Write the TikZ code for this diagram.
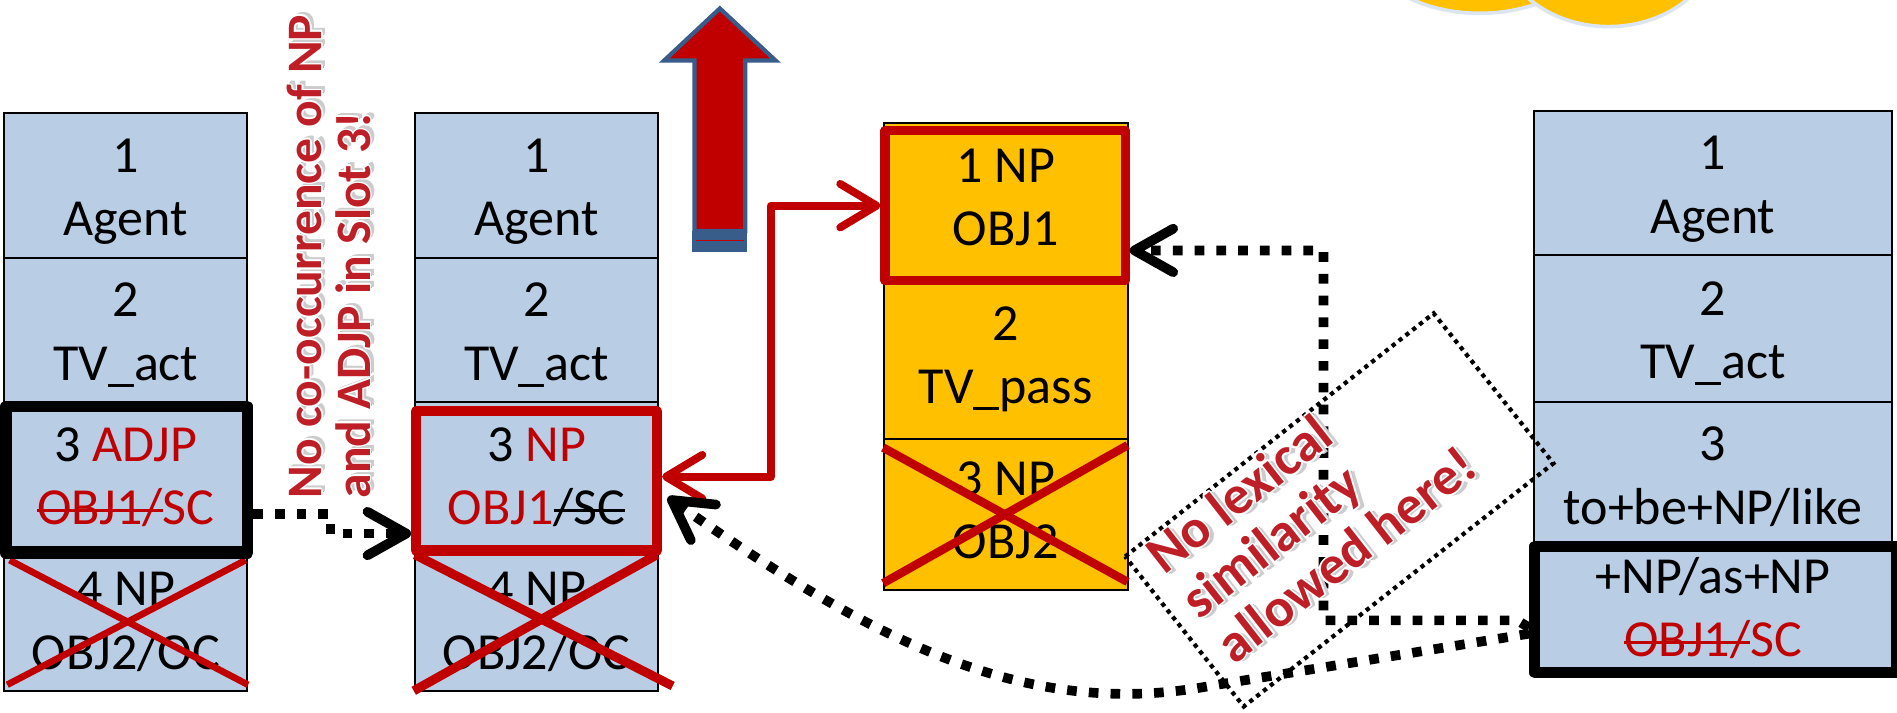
\documentclass[tikz,border=0pt]{standalone}
\usepackage{fontspec}
\setmainfont{Carlito}
\usetikzlibrary{arrows.meta,calc}

\definecolor{cellblue}{RGB}{185,205,229}
\definecolor{slotyellow}{RGB}{255,192,0}
\definecolor{alertred}{RGB}{192,0,0}
\definecolor{notered}{RGB}{190,30,38}
\definecolor{arrowedge}{RGB}{56,93,138}
\definecolor{cloudedge}{RGB}{220,230,242}

% struck-through text
\newsavebox\strikebox
\newcommand\struck[1]{\sbox\strikebox{#1}\rlap{\rule[0.24em]{\wd\strikebox}{0.055em}}\usebox\strikebox}

% two-line slot label with fixed line struts
\newcommand\slot[3][41.25]{\rule{0pt}{#1pt}#2\\#3\rule[-10.75pt]{0pt}{10.75pt}}

\newcommand\cellfont{\fontsize{43}{52.5}\selectfont}
\newcommand\occfont{\bfseries\fontsize{41}{46}\selectfont}
\newcommand\lexfont{\bfseries\fontsize{45}{50}\selectfont}

% red annotation with white halo and soft grey shadow
\newcommand\glownote[4]{%
  \foreach \sx/\sy/\sh [count=\k] in {1.2/-1.2/40,2.2/-2.2/30,3.2/-3.2/20}
    \node[#1, text=black!\sh, xshift=\sx pt, yshift=\sy pt] (#2-s\k) at (#3) {#4};
  \foreach \sx/\sy [count=\k] in {1.3/0,-1.3/0,0/1.3,0/-1.3,0.9/0.9,-0.9/0.9,0.9/-0.9,-0.9/-0.9}
    \node[#1, text=white, xshift=\sx pt, yshift=\sy pt] (#2-h\k) at (#3) {#4};
  \node[#1, text=notered] (#2) at (#3) {#4};
}

\tikzset{
  cell/.style 2 args={draw=black, line width=1.6pt, minimum width=#1, minimum height=#2,
    inner sep=0pt, align=center, font=\cellfont},
  hlbox/.style 2 args={line width=#2, line join=round, minimum width=#1, inner sep=0pt},
  crossout/.style={alertred, line width=#1, line cap=butt},
  dotconn/.style={black, line width=8pt, dash pattern=on 8pt off 10pt,
    >={Straight Barb[length=32pt,width=36pt,round]}, ->},
  redconn/.style={alertred, line width=6.5pt, line join=round,
    >={Straight Barb[length=30pt,width=36pt,round]}, <->},
  thindots/.style={black, line width=3.5pt, dash pattern=on 3.5pt off 3.7pt},
  occnote/.style={font=\occfont, inner sep=0pt, rotate=90, anchor=base west},
  lexnote/.style={font=\lexfont, inner sep=0pt, rotate=38, anchor=base west},
}

\begin{document}
\begin{tikzpicture}[x=1pt, y=-1pt]
\fill[white] (0,0) rectangle (1568,589);
\useasboundingbox (0,0) rectangle (1568,589);

% cloud lobes at the top edge
\draw[fill=slotyellow, draw=cloudedge, line width=3pt] (1223,-48.5) ellipse [x radius=95, y radius=59.5];
\draw[fill=slotyellow, draw=cloudedge, line width=3pt] (1329.5,-50.6) ellipse [x radius=90, y radius=72.6];

% block arrow pointing up
\draw[fill=alertred, draw=arrowedge, line width=3.5pt, line join=miter]
  (595,7) -- (641,50) -- (616,50) -- (616,191) -- (574,191) -- (574,50) -- (549,50) -- cycle;
\fill[arrowedge] (572.25,191) rectangle (617.75,208);
\draw[alertred, line width=1pt] (575,198.6) -- (615,198.6);

% slot column A
\node[cell={201pt}{119.5pt}, fill=cellblue] (A1) at (104,153.25) {\slot{1}{Agent}};
\node[cell={201pt}{119.5pt}, fill=cellblue] (A2) at (104,272.75) {\slot{2}{TV\_act}};
\node[cell={201pt}{119.5pt}, fill=cellblue] (A3) at (104,392.25)
  {\slot{3 \textcolor{alertred}{ADJP}}{\textcolor{alertred}{\struck{OBJ1/}SC}}};
\node[cell={201pt}{119.5pt}, fill=cellblue] (A4) at (104,511.75) {\slot{4 NP}{OBJ2/OC}};

% slot column B
\node[cell={201pt}{119.5pt}, fill=cellblue] (B1) at (443.5,153.25) {\slot{1}{Agent}};
\node[cell={201pt}{119.5pt}, fill=cellblue] (B2) at (443.5,272.75) {\slot{2}{TV\_act}};
\node[cell={201pt}{119.5pt}, fill=cellblue] (B3) at (443.5,392.25)
  {\slot{3 \textcolor{alertred}{NP}}{\textcolor{alertred}{OBJ1}\struck{/SC}}};
\node[cell={201pt}{119.5pt}, fill=cellblue] (B4) at (443.5,511.75) {\slot{4 NP}{OBJ2/OC}};

% slot column C (passive)
\node[cell={201.5pt}{130.5pt}, fill=slotyellow] (C1) at (831.25,166.75) {\slot[31.25]{1 NP}{OBJ1}};
\node[cell={201.5pt}{130.5pt}, fill=slotyellow] (C2) at (831.25,297.25) {\slot[31.25]{2}{TV\_pass}};
\node[cell={201.5pt}{125.5pt}, fill=slotyellow] (C3) at (831.25,425.25) {\slot[31.25]{3 NP}{OBJ2}};

% slot column D
\node[cell={296pt}{119pt}, fill=cellblue] (D1) at (1416,151.5) {\slot{1}{Agent}};
\node[cell={296pt}{121pt}, fill=cellblue] (D2) at (1416,271.5) {\slot{2}{TV\_act}};
\node[cell={296pt}{120pt}, fill=cellblue] (D3) at (1416,392) {\slot{3}{to+be+NP/like}};
\node[cell={296pt}{105pt}, fill=cellblue] (D4) at (1416,504.5)
  {\slot[35]{+NP/as+NP}{\textcolor{alertred}{\struck{OBJ1/}SC}}};

% crossed-out slots
\draw[crossout=5.5pt] (8,463) -- (205,566);
\draw[crossout=5.5pt] (203,463) -- (6,566);
\draw[crossout=7.5pt] (343,458.5) -- (556,567);
\draw[crossout=7.5pt] (543,458.5) -- (342,571);
\draw[crossout=7pt] (730,370) -- (932,481);
\draw[crossout=7pt] (932,368) -- (730,482);

% highlighted slots
\node[hlbox={199.7pt}{9.5pt}, draw=black, minimum height=121pt] (A3h) at (104.65,396.5) {};
\node[hlbox={199pt}{8.5pt}, draw=alertred, minimum height=115pt] (B3h) at (443.5,397.5) {};
\node[hlbox={198.5pt}{7.5pt}, draw=alertred, minimum height=124pt] (C1h) at (830.75,170) {};
\node[hlbox={299.5pt}{9pt}, draw=black, minimum height=104.5pt] (D4h) at (1418.25,503.75) {};

% dotted frame around the lexical note
\draw[thindots] (930,460) -- (1185,259) -- (1284,383) -- (1028,584) -- cycle;

% connectors
\coordinate (dv) at (1094,360);
\coordinate (rb) at (637,282);
\coordinate (cv) at (1000,567);
\coordinate (cc1) at (850,595);
\coordinate (cc2) at (722,531);

\draw[dotconn] ([yshift=-28.5pt]A3h.east) -- ++(64,0) |- ([yshift=-43.5pt]B3h.west);
\draw[redconn] ([yshift=3.5pt]B3h.east) -| (rb) |- (C1h.west);
\draw[dotconn] ([yshift=-15pt]D4h.west) -- ++(-10,-6) -| (dv) |- ([yshift=-37pt]C1h.east);
\draw[dotconn] ([yshift=-20pt]D4h.west) -- (cv) .. controls (cc1) and (cc2) ..
  ([xshift=4.75pt,yshift=-13.5pt]B3h.east);

% annotations
\glownote{occnote}{occ1}{266,412}{No co-occurrence of NP}
\glownote{occnote}{occ2}{306,412}{and ADJP in Slot 3!}
\glownote{lexnote}{lex1}{962,476}{No lexical}
\glownote{lexnote}{lex2}{991,513}{similarity}
\glownote{lexnote}{lex3}{1020,550}{allowed here!}
\end{tikzpicture}
\end{document}
